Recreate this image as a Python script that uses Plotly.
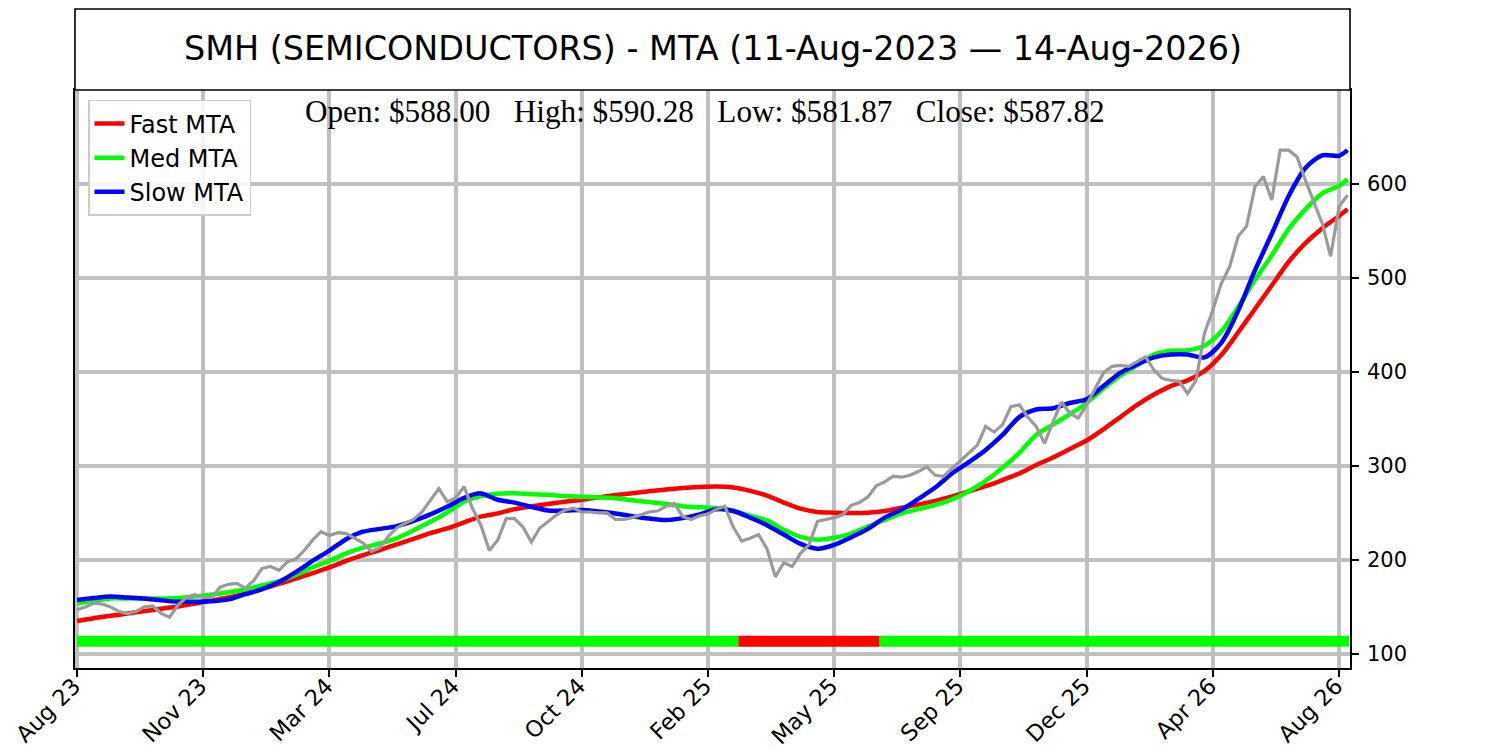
import plotly.graph_objects as go

# ---------------- data ----------------
title_text = "SMH (SEMICONDUCTORS) - MTA (11-Aug-2023 \u2014 14-Aug-2026)"
last_open, last_high, last_low, last_close = 588.00, 590.28, 581.87, 587.82

tick_bars = [0, 75, 150, 225, 300, 375, 450, 525, 600, 675, 750]
tick_labels = ["Aug 23", "Nov 23", "Mar 24", "Jul 24", "Oct 24", "Feb 25",
               "May 25", "Sep 25", "Dec 25", "Apr 26", "Aug 26"]

# price sampled every 5 bars (bar index)
price_bars = list(range(0, 756, 5))
price_close = [
    147, 150, 154, 153, 150, 145, 143, 145, 150, 151,
    143, 139, 152, 160, 163, 160, 160, 171, 174, 175,
    170, 178, 191, 193, 189, 198, 201, 210, 221, 230,
    226, 229, 228, 223, 218, 209, 213, 225, 234, 239,
    243, 251, 264, 276, 262, 266, 278, 255, 237, 210,
    221, 244, 244, 235, 219, 234, 241, 248, 253, 255,
    251, 251, 250, 250, 243, 243, 245, 248, 251, 252,
    257, 260, 246, 243, 247, 249, 254, 257, 235, 220,
    223, 227, 212, 182, 197, 193, 207, 216, 241, 243,
    245, 248, 258, 261, 267, 279, 283, 289, 288, 290,
    294, 299, 290, 289, 297, 305, 313, 322, 342, 336,
    344, 363, 365, 352, 342, 324, 347, 368, 356, 351,
    365, 382, 399, 406, 407, 406, 411, 416, 402, 393,
    391, 390, 377, 391, 441, 466, 494, 512, 544, 555,
    597, 608, 583, 636, 636, 629, 604, 580, 558, 523,
    576, 588,
]

# MTA lines sampled every 10 bars (+ last bar)
mta_bars = list(range(0, 751, 10)) + [755]
fast_mta = [
    135, 138, 140.5, 143, 145.5, 148, 150.5, 153.5, 157, 160,
    164, 169, 174.5, 180, 186, 192, 199, 205, 210.5, 216.5,
    222.5, 228.5, 233.5, 240, 246, 249.5, 254, 257, 259.5, 262,
    264, 266.5, 269, 271, 273, 275, 276.5, 277.5, 278, 277,
    273.5, 268.5, 261, 254.5, 251, 250.3, 250, 250.2, 252, 255.5,
    259, 262.8, 267.5, 273, 278.5, 285, 292, 301, 309, 318,
    327, 339, 352, 365, 376, 385, 391, 401, 418, 442,
    467, 492, 517, 537, 553, 566, 573,
]
med_mta = [
    154, 156.5, 159, 159, 159, 159, 159.5, 161, 163, 165.5,
    168.5, 173, 177.5, 184, 192, 199, 207, 213, 217.5, 223,
    231.5, 240.5, 250.5, 262, 268, 270.5, 271, 270, 269.3, 268,
    267.3, 266.5, 265.5, 263.5, 261.5, 259.5, 257.2, 256, 255, 252.5,
    247, 242, 232, 224.5, 221.5, 223.5, 228, 235.5, 242.5, 249.5,
    254, 258.5, 264.5, 273, 284, 298, 314, 333, 344, 355,
    367, 382.5, 396, 407, 418.5, 422.5, 423.2, 428, 443, 469,
    498, 524, 552, 573, 590, 598, 605,
]
slow_mta = [
    157.5, 159.5, 161, 160, 159, 157, 155.5, 155.5, 156, 158,
    163.5, 169, 176.5, 187, 199, 210, 222, 230, 233, 236,
    241.5, 248.5, 256.5, 266, 270.8, 264, 261, 256.5, 252.5, 252.5,
    253, 251.5, 249.5, 246.5, 244, 242.5, 244.5, 248.5, 254, 252,
    245, 237, 227, 217, 212, 216, 224, 233, 245, 253.5,
    265, 277, 292, 304, 317, 333, 352, 360, 361.3, 367,
    371, 385, 399, 408, 415.5, 418.5, 418.5, 415.5, 431, 465,
    508, 547, 587, 617, 630.5, 630, 636,
]

# trend signal periods (bar index where each state starts)
signal_start = [0, 393, 477]
signal_state = ["bull", "bear", "bull"]
last_bar = 756

# ---------------- styles ----------------
SIGNAL_LEVEL = 113.5
GRID = "#c0c0c0"
state_color = {"bull": "#00ff00", "bear": "#ff0000"}
PLOT_H = 578

fig = go.Figure()

ends = signal_start[1:] + [last_bar]
for s, e, st in zip(signal_start, ends, signal_state):
    fig.add_trace(go.Scatter(
        x=[s, e], y=[SIGNAL_LEVEL, SIGNAL_LEVEL], mode="lines",
        line=dict(color=state_color[st], width=11),
        showlegend=False, hoverinfo="skip"))

for name, vals, col in [("Fast MTA", fast_mta, "#ff0000"),
                        ("Med MTA", med_mta, "#00ff00"),
                        ("Slow MTA", slow_mta, "#0000ff")]:
    fig.add_trace(go.Scatter(
        x=mta_bars, y=vals, mode="lines", name=name,
        line=dict(color=col, width=4.5, shape="spline", smoothing=0.8)))

fig.add_trace(go.Scatter(
    x=price_bars, y=price_close, mode="lines",
    line=dict(color="#9a9a9a", width=3.2),
    showlegend=False, hoverinfo="skip"))

# title box
fig.add_shape(type="rect", xref="paper", yref="paper",
              x0=0, x1=1, y0=1, y1=1 + 81 / PLOT_H,
              line=dict(color="black", width=1.6), fillcolor="white", layer="above")
fig.add_annotation(xref="paper", yref="paper", x=0.5, y=1 + 41 / PLOT_H,
                   text=title_text, showarrow=False, xanchor="center", yanchor="middle",
                   font=dict(family="DejaVu Sans", size=33.4, color="black"))

sp = "\u00a0\u00a0\u00a0"
ohlc_text = (f"Open: ${last_open:.2f}{sp}High: ${last_high:.2f}{sp}"
             f"Low: ${last_low:.2f}{sp}Close: ${last_close:.2f}")
fig.add_annotation(xref="paper", yref="paper", x=0.494, y=1 - 21 / PLOT_H,
                   text=ohlc_text, showarrow=False, xanchor="center", yanchor="middle",
                   font=dict(family="Liberation Serif", size=31.2, color="black"))

# the page body adds an 8px offset, so the figure is 8px smaller on each axis
fig.update_layout(
    width=1492, height=742,
    margin=dict(l=67, r=150, t=82, b=82, autoexpand=False),
    paper_bgcolor="white", plot_bgcolor="white",
    showlegend=True,
    legend=dict(x=0.0102, y=0.983, xanchor="left", yanchor="top",
                bgcolor="rgba(255,255,255,0.85)", bordercolor="#cccccc", borderwidth=1.5,
                font=dict(family="DejaVu Sans", size=24, color="black"),
                itemwidth=30, tracegroupgap=0),
    xaxis=dict(range=[-1.2, 756.5], tickmode="array", tickvals=tick_bars, ticktext=tick_labels,
               tickangle=-45, ticks="outside", ticklen=7, tickwidth=1.5, tickcolor="black",
               showgrid=True, gridcolor=GRID, gridwidth=4, automargin=False,
               showline=True, linecolor="black", linewidth=1.6, mirror=True,
               zeroline=False, ticklabelstandoff=-13, ticklabelshift=-3,
               ticklabeloverflow="allow",
               tickfont=dict(family="DejaVu Sans", size=22.5, color="black")),
    yaxis=dict(range=[85, 700], side="right", tickmode="array",
               tickvals=[100, 200, 300, 400, 500, 600],
               ticks="outside", ticklen=7, tickwidth=1.5, tickcolor="black",
               showgrid=True, gridcolor=GRID, gridwidth=4, automargin=False,
               showline=True, linecolor="black", linewidth=1.6, mirror=True,
               zeroline=False, ticklabelstandoff=4,
               tickfont=dict(family="DejaVu Sans", size=21, color="black")),
)

fig.write_html("out.html")
